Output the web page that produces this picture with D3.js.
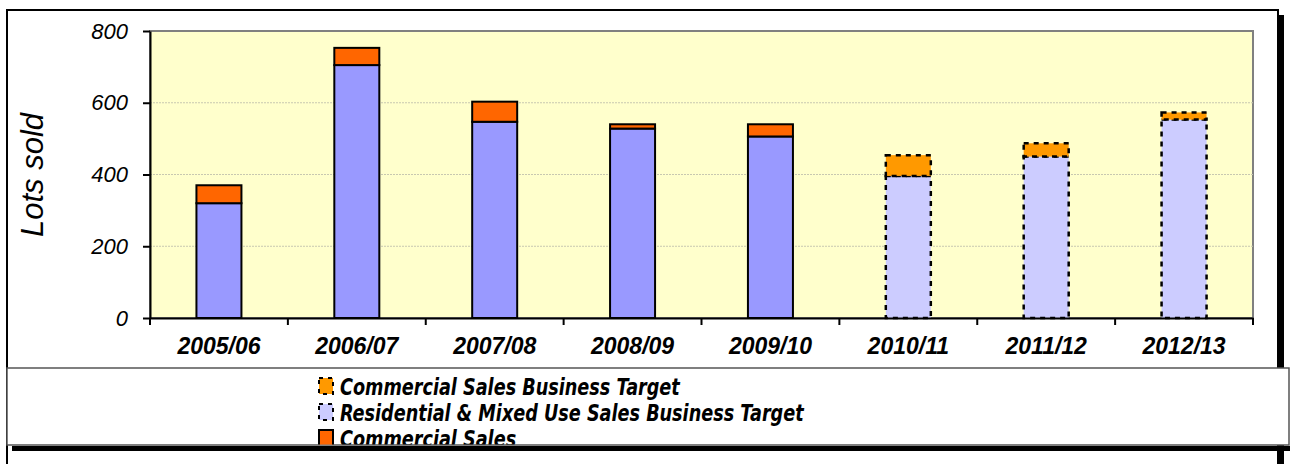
<!DOCTYPE html>
<html>
<head>
<meta charset="utf-8">
<script src="https://cdn.jsdelivr.net/npm/d3@7"></script>
<style>
  body { margin: 0; background: #fff; }
</style>
</head>
<body>
<div id="main"></div>
<script>
var ctx = {
    w: 1292,
    h: 464,
    plot: { left: 150, top: 31, right: 1253, bottom: 318 }
};

// values
var years = ["2005/06", "2006/07", "2007/08", "2008/09", "2009/10", "2010/11", "2011/12", "2012/13"];
var residentialSales = [320, 705, 547, 528, 506, 0, 0, 0];
var commercialSales = [50, 48, 56, 12, 34, 0, 0, 0];
var residentialTarget = [0, 0, 0, 0, 0, 396, 450, 553];
var commercialTarget = [0, 0, 0, 0, 0, 58, 37, 20];
var yTicks = [0, 200, 400, 600, 800];

var seriesKeys = ["resSales", "comSales", "resTarget", "comTarget"];
var seriesInfo = {
    resSales: { name: "Residential & Mixed Use Sales", fill: "#9999ff", dashed: false },
    comSales: { name: "Commercial Sales", fill: "#ff6600", dashed: false },
    resTarget: { name: "Residential & Mixed Use Sales Business Target", fill: "#ccccff", dashed: true },
    comTarget: { name: "Commercial Sales Business Target", fill: "#ff9900", dashed: true }
};
// only these three entries are visible, the legend box cuts the rest
var legendOrder = ["comTarget", "resTarget", "comSales"];

var createViz = function () {
    var svg = d3.select("#main").append("svg")
        .attr("width", ctx.w)
        .attr("height", ctx.h);

    // outer frame with shadow
    svg.append("rect").attr("x", 1279).attr("y", 15).attr("width", 5).attr("height", 460).attr("fill", "#000");
    svg.append("rect").attr("x", 7).attr("y", 10).attr("width", 1271).attr("height", 470)
        .attr("fill", "#fff").attr("stroke", "#000").attr("stroke-width", 2);

    var rows = years.map(function (y, i) {
        return {
            year: y,
            resSales: residentialSales[i],
            comSales: commercialSales[i],
            resTarget: residentialTarget[i],
            comTarget: commercialTarget[i]
        };
    });
    var stacked = d3.stack().keys(seriesKeys)(rows);

    var p = ctx.plot;
    var x = d3.scaleBand().domain(years).range([p.left, p.right]).paddingInner(0).paddingOuter(0);
    var y = d3.scaleLinear().domain([0, 800]).range([p.bottom, p.top]);
    var barW = 45;

    // plot area
    svg.append("rect")
        .attr("x", p.left).attr("y", p.top)
        .attr("width", p.right - p.left).attr("height", p.bottom - p.top)
        .attr("fill", "#ffffcc").attr("stroke", "#808080").attr("stroke-width", 2);

    svg.append("g").selectAll("line")
        .data(yTicks.filter(function (t) { return t > 0 && t < 800; }))
        .enter().append("line")
        .attr("x1", p.left).attr("x2", p.right)
        .attr("y1", function (d) { return y(d); }).attr("y2", function (d) { return y(d); })
        .attr("stroke", "#c8c8b0").attr("stroke-width", 1).attr("stroke-dasharray", "2,1");

    // bars
    var layers = svg.append("g").selectAll("g")
        .data(stacked)
        .enter().append("g");
    layers.selectAll("rect")
        .data(function (s) {
            return s.map(function (d) { return { key: s.key, d: d }; })
                .filter(function (e) { return e.d[1] - e.d[0] > 0; });
        })
        .enter().append("rect")
        .attr("x", function (e) { return x(e.d.data.year) + x.bandwidth() / 2 - barW / 2; })
        .attr("y", function (e) { return y(e.d[1]); })
        .attr("width", barW)
        .attr("height", function (e) { return y(e.d[0]) - y(e.d[1]); })
        .attr("fill", function (e) { return seriesInfo[e.key].fill; })
        .attr("stroke", "#000")
        .attr("stroke-width", function (e) { return seriesInfo[e.key].dashed ? 2.5 : 2; })
        .attr("stroke-dasharray", function (e) { return seriesInfo[e.key].dashed ? "5,5" : null; });

    // axes
    var yAxis = svg.append("g")
        .attr("transform", "translate(" + p.left + ",0)")
        .call(d3.axisLeft(y).tickValues(yTicks).tickSize(7).tickPadding(15).tickSizeOuter(0));
    yAxis.select(".domain").attr("stroke-width", 2);
    yAxis.selectAll(".tick line").attr("stroke-width", 2);
    yAxis.selectAll("text")
        .style("font-family", "'Liberation Sans', Arial, sans-serif")
        .style("font-style", "italic")
        .style("font-size", "22px")
        .attr("fill", "#000");

    var xAxis = svg.append("g")
        .attr("transform", "translate(0," + p.bottom + ")")
        .call(d3.axisBottom(x).tickSize(0).tickPadding(20));
    xAxis.select(".domain").attr("stroke-width", 2);
    xAxis.selectAll("text")
        .style("font-family", "'Liberation Sans', Arial, sans-serif")
        .style("font-style", "italic")
        .style("font-weight", "bold")
        .style("font-size", "23px")
        .attr("fill", "#000");
    xAxis.selectAll(".tick line").remove();
    var bounds = years.map(function (yr) { return x(yr); }).concat([p.right]);
    xAxis.append("g").selectAll("line")
        .data(bounds)
        .enter().append("line")
        .attr("x1", function (d) { return d; }).attr("x2", function (d) { return d; })
        .attr("y1", 0).attr("y2", 7)
        .attr("stroke", "#000").attr("stroke-width", 2);

    svg.append("text")
        .attr("transform", "translate(43,175) rotate(-90)")
        .attr("text-anchor", "middle")
        .style("font-family", "'Liberation Sans', Arial, sans-serif")
        .style("font-style", "italic")
        .style("font-size", "31px")
        .text("Lots sold");

    // legend box
    svg.append("rect").attr("x", 12).attr("y", 446).attr("width", 1278).attr("height", 5).attr("fill", "#000");
    svg.append("rect").attr("x", 7).attr("y", 368).attr("width", 1282).attr("height", 77)
        .attr("fill", "#fff").attr("stroke", "#555").attr("stroke-width", 1.5);

    svg.append("clipPath").attr("id", "legclip")
        .append("rect").attr("x", 8).attr("y", 369).attr("width", 1280).attr("height", 75.5);

    var legend = svg.append("g").attr("clip-path", "url(#legclip)");
    var items = legend.selectAll("g")
        .data(legendOrder)
        .enter().append("g")
        .attr("transform", function (k, i) { return "translate(318," + (377 + i * 26) + ")"; });
    items.append("rect")
        .attr("x", 1).attr("y", 1).attr("width", 14).attr("height", 16)
        .attr("fill", function (k) { return seriesInfo[k].fill; })
        .attr("stroke", "#000")
        .attr("stroke-width", 2)
        .attr("stroke-dasharray", function (k) { return seriesInfo[k].dashed ? "4,5" : null; });
    var labels = items.append("text")
        .attr("x", 0).attr("y", 0)
        .style("font-family", "'DejaVu Sans Condensed', 'DejaVu Sans', sans-serif")
        .style("font-weight", "bold")
        .style("font-style", "italic")
        .style("font-size", "23px")
        .text(function (k) { return seriesInfo[k].name; });
    // the reference face is narrower than DejaVu, squeeze it horizontally
    var firstW = labels.node().getComputedTextLength();
    var sx = 340 / firstW;
    labels.attr("transform", "translate(22,18) scale(" + sx + ",1)");
};

createViz();
</script>
</body>
</html>
